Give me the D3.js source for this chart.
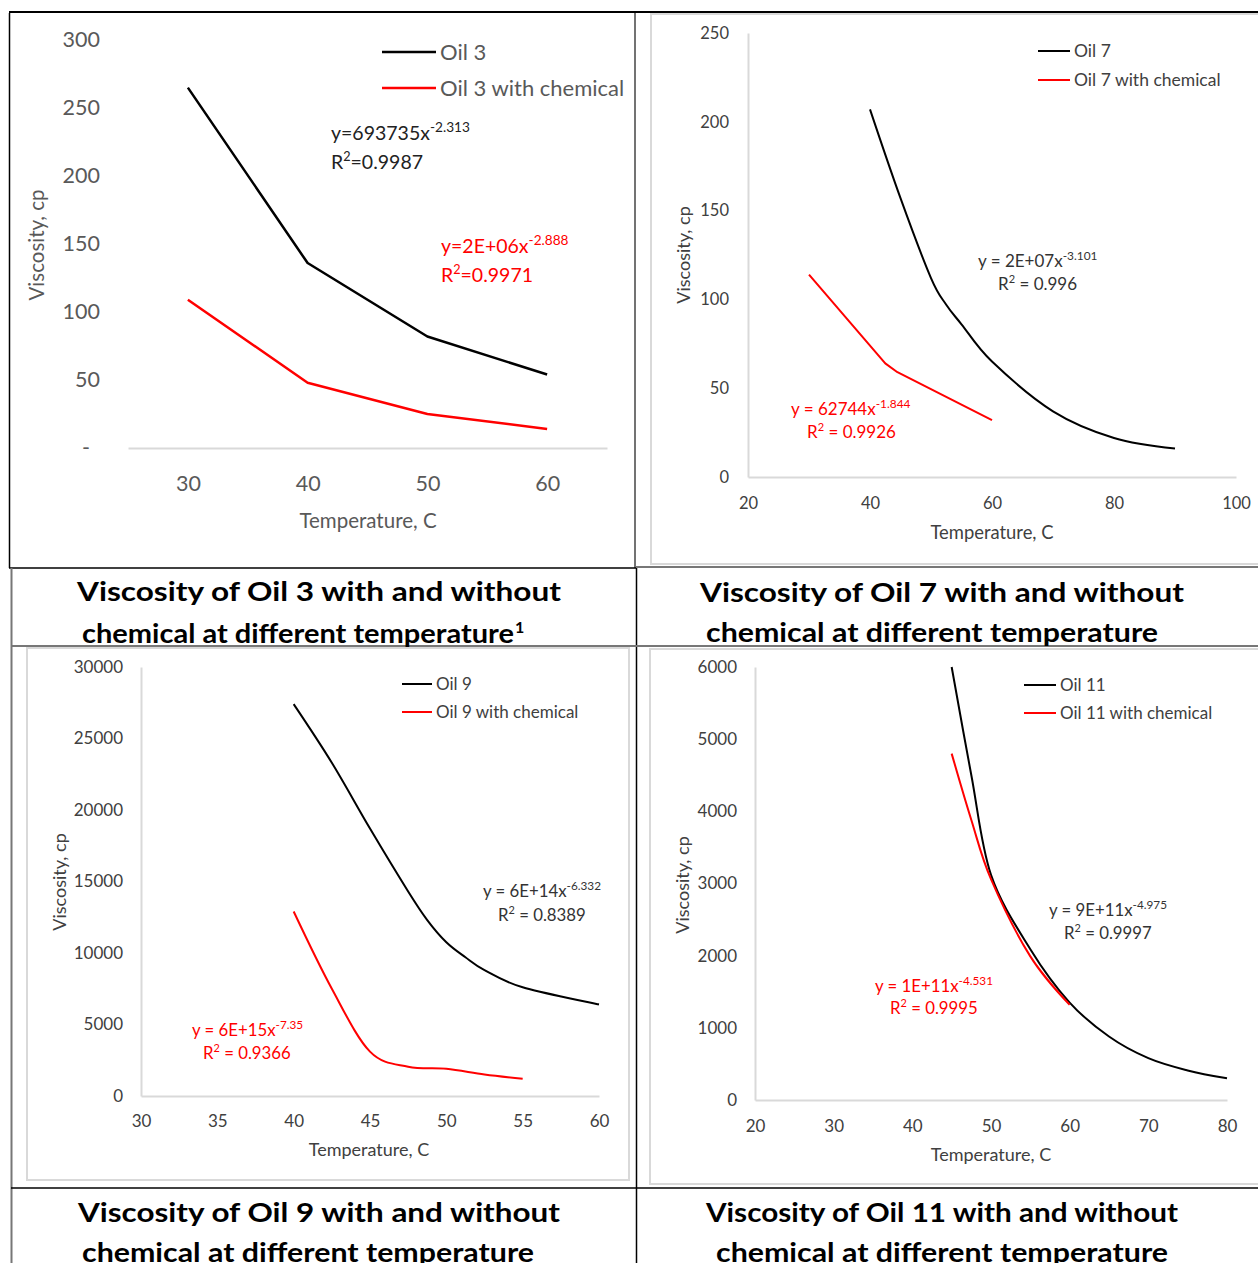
<!DOCTYPE html>
<html>
<head>
<meta charset="utf-8">
<script src="https://cdn.jsdelivr.net/npm/d3@7"></script>
<style>
  body { margin: 0; background: #fff; }
  text { font-family: Lato, "Open Sans", sans-serif; }
</style>
</head>
<body>
<svg id="fig" width="1258" height="1263"></svg>
<script>
// values (temperature in C, viscosity in cp)
var oil3Temp = [30, 40, 50, 60];
var oil3 = [265, 136, 82, 54];
var oil3Chem = [109, 48, 25, 14];

var oil7Temp = [40, 45, 50, 52.5, 55, 60, 70, 80, 90];
var oil7 = [207, 157, 112, 97, 86, 65, 37, 22, 16];
var oil7ChemTemp = [30, 42.5, 44.5, 60];
var oil7Chem = [114, 64, 59, 32];

var oil9Temp = [40, 42.5, 45, 47.5, 48.75, 50, 51.25, 52.5, 55, 60];
var oil9 = [27400, 23300, 18700, 14300, 12300, 10750, 9700, 8800, 7600, 6400];
var oil9ChemTemp = [40, 42.5, 45, 47.5, 50, 52.5, 55];
var oil9Chem = [12900, 7500, 3100, 2050, 1900, 1500, 1200];

var oil11Temp = [45, 47.5, 50, 55, 60, 65, 70, 75, 80];
var oil11 = [6000, 4500, 3120, 2090, 1350, 880, 580, 410, 300];
var oil11ChemTemp = [45, 47.5, 50, 55, 60];
var oil11Chem = [4800, 3880, 3060, 1990, 1320];

var ticks3X = [30, 40, 50, 60], ticks3Y = [0, 50, 100, 150, 200, 250, 300];
var ticks7X = [20, 40, 60, 80, 100], ticks7Y = [0, 50, 100, 150, 200, 250];
var ticks9X = [30, 35, 40, 45, 50, 55, 60], ticks9Y = [0, 5000, 10000, 15000, 20000, 25000, 30000];
var ticks11X = [20, 30, 40, 50, 60, 70, 80], ticks11Y = [0, 1000, 2000, 3000, 4000, 5000, 6000];

var captions = [
  ["Viscosity of Oil 3 with and without", "chemical at different temperature", "1"],
  ["Viscosity of Oil 7 with and without", "chemical at different temperature", ""],
  ["Viscosity of Oil 9 with and without", "chemical at different temperature", ""],
  ["Viscosity of Oil 11 with and without", "chemical at different temperature", ""]
];

var svg = d3.select("#fig");
var smooth = d3.curveCardinal.tension(0);

// table rules and chart frames
function rule(x1, y1, x2, y2, col, w) {
  svg.append("line").attr("x1", x1).attr("y1", y1).attr("x2", x2).attr("y2", y2)
    .attr("stroke", col).attr("stroke-width", w);
}
svg.append("rect").attr("x", 651).attr("y", 14).attr("width", 620).attr("height", 550)
  .attr("fill", "none").attr("stroke", "#d9d9d9").attr("stroke-width", 2);
svg.append("rect").attr("x", 27).attr("y", 648).attr("width", 602).attr("height", 532)
  .attr("fill", "none").attr("stroke", "#d9d9d9").attr("stroke-width", 2);
svg.append("rect").attr("x", 650).attr("y", 649).attr("width", 620).attr("height", 535)
  .attr("fill", "none").attr("stroke", "#d9d9d9").attr("stroke-width", 2);
rule(9, 12, 1258, 12, "#000", 2);
rule(9.5, 13, 9.5, 568, "#000", 1.5);
rule(635, 13, 635, 568, "#444", 1.5);
rule(9, 568, 636, 568, "#000", 1.5);
rule(636, 567, 1258, 567, "#777", 2);
rule(636.5, 568, 636.5, 1263, "#000", 1.5);
rule(11, 646, 1258, 646, "#777", 2);
rule(11.5, 568, 11.5, 1263, "#777", 2);
rule(11, 1188, 1258, 1188, "#000", 1.5);

function chart(c) {
  var g = svg.append("g");
  var x = d3.scaleLinear().domain(c.xDomain).range(c.xRange);
  var y = d3.scaleLinear().domain(c.yDomain).range(c.yRange);

  var xAxis = g.append("g")
    .attr("transform", "translate(0," + c.yRange[0] + ")")
    .call(d3.axisBottom(x).tickValues(c.xTicks).tickSize(0).tickPadding(c.xPad));
  xAxis.select(".domain").attr("stroke", "#d9d9d9").attr("stroke-width", 2);
  xAxis.selectAll("text").attr("font-size", c.tickSize).attr("fill", c.textCol).attr("font-family", null);

  var yAxis = g.append("g")
    .attr("transform", "translate(" + c.xRange[0] + ",0)")
    .call(d3.axisLeft(y).tickValues(c.yTicks).tickSize(0).tickPadding(c.yPad)
      .tickFormat(function(d) { return d === 0 && c.dash ? "-" : d; }));
  if (c.yLine) yAxis.select(".domain").attr("stroke", "#d9d9d9").attr("stroke-width", 2);
  else yAxis.select(".domain").remove();
  yAxis.selectAll("text").attr("font-size", c.tickSize).attr("fill", c.textCol).attr("font-family", null)
    .attr("dx", function(d) { return d === 0 && c.dash ? -10 : 0; });

  c.series.forEach(function(s) {
    var line = d3.line()
      .x(function(d) { return x(d[0]); })
      .y(function(d) { return y(d[1]); })
      .curve(s.curve || c.curve);
    g.append("path").datum(d3.zip(s.t, s.v))
      .attr("fill", "none").attr("stroke", s.col).attr("stroke-width", c.lineW)
      .attr("stroke-linejoin", "round")
      .attr("d", line);
  });

  // legend
  c.series.forEach(function(s, i) {
    var ly = c.legend[2] + i * c.legend[3];
    g.append("line").attr("x1", c.legend[0]).attr("x2", c.legend[1])
      .attr("y1", ly).attr("y2", ly).attr("stroke", s.col).attr("stroke-width", c.lineW);
    g.append("text").attr("x", c.legend[1] + 4).attr("y", ly).attr("dy", "0.35em")
      .attr("font-size", c.legendSize).attr("fill", c.textCol).text(s.name);
  });

  // trendline equations
  c.series.forEach(function(s) {
    var e = s.eq;
    var t1 = g.append("text").attr("x", e[0]).attr("y", e[1])
      .attr("font-size", c.eqSize).attr("fill", s.eqCol);
    t1.append("tspan").text(e[2]);
    t1.append("tspan").attr("dy", -c.eqSize * 0.4).attr("font-size", c.eqSize * 0.7).text(e[3]);
    var t2 = g.append("text").attr("x", e[4]).attr("y", e[5])
      .attr("font-size", c.eqSize).attr("fill", s.eqCol);
    t2.append("tspan").text("R");
    t2.append("tspan").attr("dy", -c.eqSize * 0.4).attr("font-size", c.eqSize * 0.65).text("2");
    t2.append("tspan").attr("dy", c.eqSize * 0.4).text(e[6]);
  });

  // axis titles
  g.append("text").attr("transform", "translate(" + c.yTitle[0] + "," + c.yTitle[1] + ") rotate(-90)")
    .attr("text-anchor", "middle").attr("dy", "0.35em")
    .attr("font-size", c.yTitleSize).attr("fill", c.textCol).text("Viscosity, cp");
  g.append("text").attr("x", c.xTitle[0]).attr("y", c.xTitle[1]).attr("dy", "0.35em")
    .attr("text-anchor", "middle").attr("font-size", c.titleSize).attr("fill", c.textCol)
    .text("Temperature, C");

  // caption below the chart
  var cap = c.caption;
  [0, 1].forEach(function(k) {
    svg.append("text").attr("x", c.capX[k]).attr("y", c.capY[k])
      .attr("font-size", 26).attr("font-weight", "bold").attr("fill", "#000")
      .attr("textLength", c.capW[k]).attr("lengthAdjust", "spacingAndGlyphs")
      .text(cap[k]);
    if (k === 1 && cap[2]) {
      svg.append("text").attr("x", c.capX[k] + c.capW[k] + 1).attr("y", c.capY[k] - 10)
        .attr("font-size", 16).attr("font-weight", "bold").text(cap[2]);
    }
  });
}

chart({
  xDomain: [25, 65], xRange: [128, 607], yDomain: [0, 300], yRange: [448, 40],
  xTicks: ticks3X, yTicks: ticks3Y, xPad: 28, yPad: 28, dash: true, yLine: false,
  tickSize: 21.5, legendSize: 22, eqSize: 19.5, titleSize: 20.5, yTitleSize: 20.5, textCol: "#595959",
  lineW: 2.5, curve: d3.curveLinear,
  legend: [382, 436, 52, 36],
  series: [
    { name: "Oil 3", t: oil3Temp, v: oil3, col: "#000", eqCol: "#222",
      eq: [331, 140, "y=693735x", "-2.313", 331, 169, "=0.9987"] },
    { name: "Oil 3 with chemical", t: oil3Temp, v: oil3Chem, col: "#ff0000", eqCol: "#ff0000",
      eq: [441, 253, "y=2E+06x", "-2.888", 441, 282, "=0.9971"] }
  ],
  yTitle: [37, 245], xTitle: [368, 521],
  caption: captions[0], capX: [77, 82], capY: [601, 643], capW: [484, 432]
});

chart({
  xDomain: [20, 100], xRange: [748, 1236], yDomain: [0, 250], yRange: [477, 33],
  xTicks: ticks7X, yTicks: ticks7Y, xPad: 20, yPad: 19, dash: false, yLine: true,
  tickSize: 16.5, legendSize: 17.5, eqSize: 17, titleSize: 18.4, yTitleSize: 18, textCol: "#404040",
  lineW: 2, curve: smooth,
  legend: [1038, 1070, 51, 29],
  series: [
    { name: "Oil 7", t: oil7Temp, v: oil7, col: "#000", eqCol: "#333",
      eq: [978, 267, "y = 2E+07x", "-3.101", 998, 290, " = 0.996"] },
    { name: "Oil 7 with chemical", t: oil7ChemTemp, v: oil7Chem, col: "#ff0000", eqCol: "#ff0000",
      curve: d3.curveLinear,
      eq: [791, 415, "y = 62744x", "-1.844", 807, 438, " = 0.9926"] }
  ],
  yTitle: [684, 255], xTitle: [992, 533],
  caption: captions[1], capX: [700, 706], capY: [602, 642], capW: [484, 452]
});

chart({
  xDomain: [30, 60], xRange: [141, 599], yDomain: [0, 30000], yRange: [1096, 667],
  xTicks: ticks9X, yTicks: ticks9Y, xPad: 19, yPad: 18, dash: false, yLine: true,
  tickSize: 17, legendSize: 17, eqSize: 16.8, titleSize: 18, yTitleSize: 18, textCol: "#404040",
  lineW: 2, curve: smooth,
  legend: [402, 432, 684, 28],
  series: [
    { name: "Oil 9", t: oil9Temp, v: oil9, col: "#000", eqCol: "#333",
      eq: [483, 897, "y = 6E+14x", "-6.332", 498, 921, " = 0.8389"] },
    { name: "Oil 9 with chemical", t: oil9ChemTemp, v: oil9Chem, col: "#ff0000", eqCol: "#ff0000",
      eq: [192, 1036, "y = 6E+15x", "-7.35", 203, 1059, " = 0.9366"] }
  ],
  yTitle: [60, 882], xTitle: [369, 1150],
  caption: captions[2], capX: [78, 82], capY: [1222, 1262], capW: [482, 452]
});

chart({
  xDomain: [20, 80], xRange: [755, 1227], yDomain: [0, 6000], yRange: [1100, 667],
  xTicks: ticks11X, yTicks: ticks11Y, xPad: 20, yPad: 18, dash: false, yLine: true,
  tickSize: 17, legendSize: 17, eqSize: 16.8, titleSize: 18, yTitleSize: 18, textCol: "#404040",
  lineW: 2, curve: smooth,
  legend: [1024, 1056, 685, 28],
  series: [
    { name: "Oil 11", t: oil11Temp, v: oil11, col: "#000", eqCol: "#333",
      eq: [1049, 916, "y = 9E+11x", "-4.975", 1064, 939, " = 0.9997"] },
    { name: "Oil 11 with chemical", t: oil11ChemTemp, v: oil11Chem, col: "#ff0000", eqCol: "#ff0000",
      eq: [875, 992, "y = 1E+11x", "-4.531", 890, 1014, " = 0.9995"] }
  ],
  yTitle: [683, 885], xTitle: [991, 1155],
  caption: captions[3], capX: [706, 716], capY: [1222, 1262], capW: [472, 452]
});
</script>
</body>
</html>
